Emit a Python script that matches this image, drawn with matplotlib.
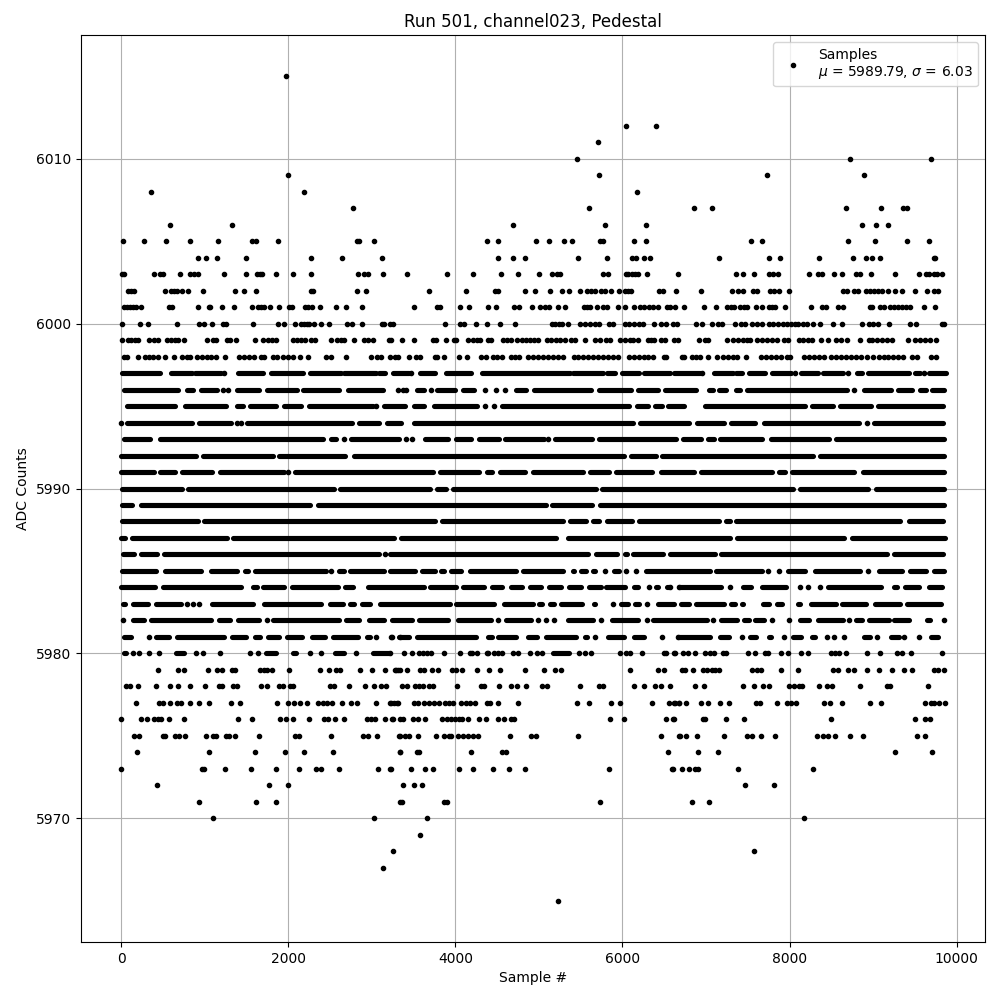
import matplotlib
matplotlib.use('Agg')
import matplotlib.pyplot as plt

# isolated samples, one list per ADC count
adc_6015 = [1976]
adc_6012 = [6036, 6396]
adc_6011 = [5712]
adc_6010 = [5460, 8728, 9688]
adc_6009 = [2000, 5724, 7732, 8896]
adc_6008 = [356, 2192, 6168]
adc_6007 = [2768, 5604, 6856, 7072, 8680, 9100, 9364, 9412]
adc_6006 = [584, 1328, 4692, 5796, 6276, 8872, 9040, 9184]
adc_6005 = [20, 272, 536, 824, 1160, 1568, 1616, 1880, 2816, 2844, 3020, 4380, 4512, 4968, 5124, 5304, 5400, 5736, 5764, 6132, 6276, 7540, 7672, 8704, 9028, 9412, 9664]
adc_6004 = [920, 1016, 1148, 1496, 2276, 2636, 3116, 4512, 4692, 4836, 5472, 5820, 6108, 6156, 6252, 6324, 7156, 7756, 7888, 8356, 8764, 8920, 8992, 9088, 9724, 9744]
adc_6003 = [8, 36, 392, 460, 504, 704, 824, 872, 916, 1232, 1496, 1628, 1664, 1688, 1856, 2060, 2276, 2828, 2900, 2948, 3128, 3420, 3900, 4212, 4548, 4752, 5004, 5160, 5220, 5256, 5772, 5832, 6036, 6060, 6108, 6144, 6180, 6288, 6660, 7360, 7444, 7576, 7756, 7804, 7864, 8236, 8344, 8392, 8536, 8632, 8800, 8848, 8980, 9268, 9544, 9628, 9664, 9724, 9760, 9820]
adc_6002 = [80, 116, 152, 524, 596, 632, 668, 728, 800, 980, 1364, 1472, 1616, 2276, 2300, 2816, 2924, 3684, 4128, 4476, 4512, 4836, 4956, 5136, 5280, 5364, 5496, 5580, 5628, 5676, 5748, 5796, 5868, 5964, 6024, 6060, 6096, 6432, 6480, 6636, 6940, 7312, 7384, 7444, 7564, 7612, 7768, 7816, 7876, 7996, 8644, 8692, 8776, 8824, 8920, 8968, 9016, 9064, 9112, 9184, 9268, 9352, 9496, 9640, 9724, 9772]
adc_6001 = [32, 68, 104, 140, 176, 236, 572, 608, 920, 1052, 1064, 1204, 1352, 1568, 1640, 1676, 1712, 1784, 1892, 2012, 2048, 2204, 2240, 2288, 2384, 2564, 2684, 2876, 3504, 3780, 3816, 4056, 4164, 4392, 4488, 4704, 4764, 4920, 5016, 5076, 5124, 5232, 5316, 5544, 5580, 5616, 5700, 5772, 5820, 5952, 6024, 6132, 6204, 6252, 6312, 6360, 6420, 6528, 6564, 6624, 6736, 6976, 7120, 7252, 7300, 7336, 7408, 7456, 7492, 7600, 7672, 7756, 7792, 7828, 7948, 8260, 8392, 8440, 8584, 8644, 8968, 8992, 9088, 9136, 9208, 9256, 9304, 9352, 9400, 9448, 9604, 9736]
adc_6000 = [8, 224, 320, 668, 932, 992, 1088, 1220, 1256, 1580, 1880, 1952, 2084, 2156, 2192, 2228, 2252, 2312, 2396, 2492, 2696, 2756, 2876, 3116, 3140, 3212, 3248, 3876, 4056, 4104, 4248, 4380, 4536, 4716, 5160, 5196, 5244, 5280, 5352, 5496, 5556, 5616, 5676, 5724, 5844, 5892, 6024, 6072, 6132, 6192, 6240, 6372, 6456, 6516, 6604, 6652, 6880, 6952, 7072, 7144, 7192, 7348, 7420, 7468, 7552, 7612, 7672, 7756, 7804, 7864, 7924, 7972, 8020, 8068, 8104, 8164, 8212, 8284, 8368, 8524, 8632, 8872, 8956, 9004, 9064, 9196, 9448, 9508, 9828, 9852]
adc_5999 = [8, 80, 116, 164, 200, 332, 392, 440, 548, 596, 644, 680, 752, 1028, 1100, 1136, 1268, 1304, 1376, 1604, 1700, 1760, 1808, 1856, 2060, 2108, 2156, 2204, 2276, 2324, 2516, 2576, 2624, 2660, 2780, 2900, 2948, 3008, 3200, 3224, 3360, 3504, 3732, 3768, 3888, 3984, 4008, 4152, 4212, 4260, 4296, 4392, 4428, 4572, 4620, 4668, 4740, 4800, 4848, 4896, 4944, 4992, 5100, 5148, 5208, 5256, 5316, 5388, 5436, 5548, 5676, 5736, 5808, 5856, 5976, 6024, 6084, 6120, 6180, 6300, 6336, 6372, 6456, 6504, 6616, 6664, 6916, 6988, 7024, 7252, 7324, 7384, 7444, 7492, 7528, 7612, 7672, 7732, 7792, 7852, 7936, 7984, 8116, 8164, 8224, 8272, 8380, 8464, 8560, 8620, 8692, 8848, 8956, 8992, 9052, 9112, 9172, 9232, 9424, 9496, 9556, 9616, 9676, 9748]
adc_5998 = [32, 68, 200, 284, 332, 380, 440, 524, 632, 728, 788, 824, 908, 968, 1028, 1076, 1136, 1244, 1412, 1472, 1532, 1592, 1676, 1712, 1820, 1868, 1940, 2000, 2060, 2144, 2240, 2456, 2516, 2684, 2984, 3056, 3104, 3212, 3272, 3312, 3444, 3528, 3576, 3756, 3780, 3864, 4044, 4140, 4308, 4368, 4452, 4500, 4560, 4668, 4716, 4764, 4872, 4932, 4992, 5052, 5112, 5172, 5232, 5292, 5424, 5472, 5532, 5592, 5652, 5712, 5772, 5832, 5892, 5952, 6072, 6132, 6192, 6252, 6300, 6360, 6492, 6516, 6712, 6736, 6832, 6880, 6932, 7024, 7132, 7204, 7264, 7324, 7372, 7484, 7660, 7720, 7780, 7840, 7900, 7972, 8008, 8176, 8236, 8296, 8356, 8416, 8500, 8560, 8620, 8680, 8740, 8800, 8860, 8932, 9004, 9076, 9136, 9184, 9244, 9304, 9364, 9472, 9520, 9688, 9748]
adc_5997 = [1232, 3472, 6952, 8064, 8704, 9604]
adc_5996 = [1220, 1280, 3308, 3372, 3412, 3708, 4356, 4488, 4596, 8776]
adc_5995 = [3052, 4352, 4460]
adc_5994 = [0, 1380, 1432, 8924]
adc_5993 = [2660, 3412, 3480, 5112]
adc_5991 = [2000]
adc_5986 = [3160]
adc_5985 = [2516, 5796, 6036, 6156, 7744, 7876, 8944]
adc_5984 = [6312, 6676, 6572, 7284, 8124, 8224, 8360]
adc_5983 = [788, 852, 932, 5892, 6288]
adc_5982 = [20, 1740, 4512, 4992, 5084, 5184, 5748, 6288, 7088, 7792, 7996, 8716, 9844]
adc_5981 = [332, 3044, 3236, 3332, 3232, 5668, 6468, 6664, 7428, 7932, 8452, 8536, 8648, 9052, 9376, 9544]
adc_5980 = [136, 212, 332, 452, 896, 980, 1184, 1540, 1640, 2264, 2396, 2804, 3212, 3384, 3476, 3564, 3612, 3660, 3712, 3864, 4056, 4172, 4196, 4260, 4376, 4392, 4464, 4512, 4560, 4692, 4752, 4896, 4980, 5036, 5476, 5556, 5628, 5976, 6044, 6084, 6236, 6492, 6520, 6624, 6616, 6728, 6788, 6872, 6988, 7048, 7096, 7204, 7244, 7504, 7588, 7708, 7744, 7900, 7984, 8136, 8224, 8500, 8548, 8596, 8680, 8932, 9088, 9292, 9352, 9460, 9820]
adc_5979 = [440, 680, 748, 1040, 1148, 1208, 1328, 1360, 1660, 1708, 1748, 1800, 2012, 2384, 2492, 2564, 2620, 2852, 2996, 3152, 3284, 3332, 3276, 3316, 3424, 3580, 3624, 3720, 3792, 3960, 4004, 4080, 4260, 4404, 4536, 4836, 5064, 5196, 5268, 6084, 6424, 6492, 6712, 6748, 6844, 6964, 7012, 7072, 7108, 7156, 7552, 7612, 7660, 7900, 8104, 8524, 8584, 8704, 8776, 8932, 9076, 9232, 9376, 9472, 9724, 9772, 9844]
adc_5978 = [60, 108, 200, 416, 584, 680, 824, 1004, 1172, 1208, 1340, 1380, 1676, 1748, 1892, 1940, 2024, 2060, 2504, 2548, 2720, 2912, 3020, 3104, 3164, 3360, 3420, 3516, 3564, 3612, 3684, 3732, 4020, 4308, 4344, 4524, 4668, 4740, 4848, 5040, 5100, 5496, 5724, 5772, 6132, 6260, 6384, 6456, 6564, 6868, 6976, 7444, 7576, 7684, 7756, 7996, 8056, 8116, 8152, 8356, 8452, 8512, 8844, 9172, 9208, 9652]
adc_5977 = [172, 452, 500, 584, 668, 716, 824, 932, 1044, 1312, 1424, 1868, 2000, 2072, 2144, 2228, 2360, 2420, 2468, 2528, 2636, 2744, 2816, 3044, 3212, 3260, 3308, 3228, 3300, 3504, 3552, 3624, 3684, 3744, 3804, 3876, 3924, 3972, 4068, 4128, 4176, 4236, 4380, 4416, 4512, 4752, 5460, 5604, 5868, 5976, 6348, 6552, 6624, 6672, 6616, 6676, 6764, 6940, 7024, 7168, 7276, 7600, 7648, 7844, 7972, 8020, 8080, 8416, 8488, 8632, 8968, 9100, 9616, 9688, 9724, 9784, 9856]
adc_5976 = [0, 236, 308, 392, 440, 476, 572, 752, 1400, 1568, 1904, 1976, 2060, 2252, 2432, 2480, 2552, 2660, 2936, 2984, 3032, 3152, 3248, 3332, 3240, 3368, 3492, 3552, 3636, 3840, 3900, 3948, 3996, 4044, 4080, 4152, 4284, 4364, 4512, 4584, 4668, 4704, 5856, 6012, 6516, 6612, 6604, 6964, 6988, 7240, 7456, 8500, 9496, 9616, 9676]
adc_5975 = [148, 212, 500, 524, 644, 692, 764, 1016, 1100, 1136, 1256, 1292, 1364, 1652, 2084, 2132, 2516, 2888, 2948, 3056, 3332, 3324, 3396, 3444, 3552, 3768, 3864, 3924, 3948, 4032, 4092, 4152, 4212, 4272, 4656, 4908, 4968, 5472, 6456, 6684, 6676, 6760, 6892, 7216, 7492, 7552, 7660, 7828, 8332, 8404, 8464, 8548, 8728, 8884, 9520, 9616]
adc_5974 = [188, 1052, 1604, 1964, 2192, 2540, 3332, 3336, 3540, 3564, 4188, 4560, 4608, 6540, 6904, 7144, 9268, 9700]
adc_5973 = [0, 968, 992, 1244, 1556, 1856, 2132, 2336, 2396, 2600, 3068, 3224, 3212, 3468, 3636, 3732, 4044, 4212, 4452, 4644, 4836, 5844, 6600, 6596, 6712, 6796, 6868, 6904, 7384, 8284]
adc_5972 = [428, 1772, 2000, 3372, 3504, 3600, 7468, 7816]
adc_5971 = [932, 1616, 1856, 3332, 3360, 3864, 3900, 5736, 6832, 7036]
adc_5970 = [1100, 3020, 3660, 8176]
adc_5969 = [3576]
adc_5968 = [3248, 7576]
adc_5967 = [3128]
adc_5965 = [5232]

# stretches where the dots merge into a solid row: (first sample, last sample)
runs_5997 = [(12, 468), (592, 840), (880, 1188), (1392, 1692), (1788, 2180), (2260, 2628), (2660, 3052), (3080, 3160), (3252, 3444), (3580, 3752), (3892, 4192), (4312, 5372), (5412, 5772), (5812, 5912), (6000, 6192), (6260, 6572), (6612, 6924), (7096, 7324), (7364, 7436), (7516, 7704), (7784, 8012), (8136, 8336), (8404, 8644), (8812, 8864), (8944, 9436), (9496, 9564), (9664, 9868)]
runs_5996 = [(28, 676), (788, 856), (952, 1148), (1380, 1648), (1744, 2100), (2180, 2608), (2712, 3128), (3544, 3620), (3784, 4000), (4096, 4220), (4724, 4840), (4936, 5620), (5716, 6100), (6184, 6420), (6508, 6880), (7036, 7080), (7160, 7240), (7360, 7404), (7496, 8692), (8888, 9212), (9296, 9472), (9556, 9632), (9704, 9852)]
runs_5995 = [(72, 648), (764, 1252), (1380, 1460), (1536, 1852), (1944, 2156), (2252, 3008), (3140, 3400), (3504, 3628), (3744, 4260), (4552, 6080), (6172, 6300), (6392, 6468), (6548, 6732), (6988, 8180), (8264, 8520), (8608, 8980), (9064, 9836)]
runs_5994 = [(64, 848), (924, 1308), (1500, 2756), (2844, 3088), (3180, 3348), (3504, 6120), (6212, 6796), (6896, 7220), (7296, 7584), (7696, 8832), (9016, 9836)]
runs_5993 = [(36, 348), (468, 2420), (2508, 2568), (2748, 3328), (3636, 3912), (4004, 4188), (4284, 4520), (4596, 5060), (5192, 5640), (5724, 6640), (6728, 6940), (7020, 7092), (7172, 7672), (7776, 8472), (8556, 9852)]
runs_5992 = [(0, 892), (972, 1816), (1892, 2676), (2780, 6012), (6104, 6400), (6476, 8280), (8360, 9852)]
runs_5991 = [(0, 388), (468, 644), (732, 1088), (1176, 1948), (2084, 3732), (3812, 4280), (4372, 4440), (4528, 4832), (4924, 5528), (5612, 5840), (5924, 6352), (6460, 6852), (6944, 7792), (7876, 7940), (8028, 8772), (8876, 9852)]
runs_5990 = [(12, 728), (804, 2548), (2612, 3700), (3784, 3888), (3976, 5680), (5756, 8044), (8124, 8944), (9036, 9852)]
runs_5989 = [(12, 128), (232, 2260), (2352, 5080), (5156, 5640), (5736, 9852)]
runs_5988 = [(12, 916), (992, 3760), (3836, 5292), (5376, 5564), (5644, 5724), (5816, 6112), (6196, 7152), (7236, 7284), (7364, 9324), (9428, 9836)]
runs_5987 = [(0, 40), (132, 1260), (1340, 3260), (3352, 5200), (5352, 7284), (7376, 8652), (8744, 9860)]
runs_5986 = [(24, 148), (240, 428), (516, 3088), (3220, 5592), (5684, 5940), (6024, 6048), (6124, 6480), (6564, 7104), (7184, 9164), (9248, 9832)]
runs_5985 = [(12, 416), (528, 956), (1072, 1388), (1480, 1516), (1596, 2448), (2604, 2660), (2740, 3140), (3220, 3520), (3596, 3760), (3832, 3860), (3952, 4068), (4172, 4728), (4804, 5288), (5404, 5420), (5504, 5560), (5644, 5672), (5900, 5960), (6276, 7044), (7124, 7672), (7984, 8184), (8300, 8844), (9068, 9352), (9440, 9632), (9728, 9844)]
runs_5984 = [(0, 400), (504, 1436), (1572, 1620), (1700, 1948), (2040, 2596), (2680, 2768), (2952, 3620), (3692, 4008), (4096, 4340), (4432, 4552), (4664, 4800), (4892, 5028), (5116, 5268), (5364, 5500), (5596, 5740), (5804, 6028), (6132, 6180), (6404, 6420), (6536, 6560), (6680, 7180), (7444, 7540), (7676, 7960), (8456, 9092), (9256, 9292), (9388, 9552), (9668, 9820)]
runs_5983 = [(24, 44), (144, 316), (420, 716), (1084, 1580), (1704, 2388), (2496, 2648), (2740, 2780), (2876, 2980), (3092, 3940), (4012, 4460), (4584, 4924), (4996, 5040), (5136, 5180), (5264, 5520), (5656, 5676), (5980, 6060), (6152, 6200), (6424, 6620), (6696, 6792), (6876, 7220), (7296, 7344), (7428, 7444), (7688, 7752), (7844, 7912), (8100, 8124), (8252, 8552), (8628, 8916), (9020, 9324), (9412, 9812)]
runs_5982 = [(144, 276), (356, 1076), (1168, 1300), (1392, 1652), (1816, 2600), (2692, 2848), (2964, 3140), (3236, 3480), (3564, 3912), (4036, 4420), (4604, 4908), (5344, 5652), (5872, 6180), (6364, 7012), (7184, 7372), (7460, 7520), (7588, 7692), (8120, 8236), (8336, 8644), (8792, 8872), (8956, 9192), (9256, 9432), (9644, 9684)]
runs_5981 = [(36, 116), (420, 568), (672, 1228), (1320, 1492), (1596, 1660), (1752, 1888), (1980, 2164), (2280, 2436), (2532, 2828), (2940, 2976), (3328, 3440), (3536, 4252), (4384, 4440), (4512, 4720), (4868, 4972), (5084, 5440), (5556, 5580), (5824, 6012), (6132, 6252), (6660, 7052), (7164, 7276), (7524, 7596), (7748, 7772), (8036, 8132), (8268, 8308), (8888, 8968), (9220, 9312), (9688, 9772)]
runs_5980 = [(36, 60), (652, 756), (1732, 1848), (2052, 2096), (2556, 2660), (3012, 3200), (5164, 5360)]

point_levels = [6015, 6012, 6011, 6010, 6009, 6008, 6007, 6006, 6005, 6004, 6003, 6002, 6001, 6000, 5999, 5998, 5997, 5996, 5995, 5994, 5993, 5991, 5986, 5985, 5984, 5983, 5982, 5981, 5980, 5979, 5978, 5977, 5976, 5975, 5974, 5973, 5972, 5971, 5970, 5969, 5968, 5967, 5965]
point_rows = [adc_6015, adc_6012, adc_6011, adc_6010, adc_6009, adc_6008, adc_6007, adc_6006, adc_6005, adc_6004, adc_6003, adc_6002, adc_6001, adc_6000, adc_5999, adc_5998, adc_5997, adc_5996, adc_5995, adc_5994, adc_5993, adc_5991, adc_5986, adc_5985, adc_5984, adc_5983, adc_5982, adc_5981, adc_5980, adc_5979, adc_5978, adc_5977, adc_5976, adc_5975, adc_5974, adc_5973, adc_5972, adc_5971, adc_5970, adc_5969, adc_5968, adc_5967, adc_5965]
run_levels = [5997, 5996, 5995, 5994, 5993, 5992, 5991, 5990, 5989, 5988, 5987, 5986, 5985, 5984, 5983, 5982, 5981, 5980]
run_rows = [runs_5997, runs_5996, runs_5995, runs_5994, runs_5993, runs_5992, runs_5991, runs_5990, runs_5989, runs_5988, runs_5987, runs_5986, runs_5985, runs_5984, runs_5983, runs_5982, runs_5981, runs_5980]

mean_adc = 5989.79
std_adc = 6.03

xs = []
ys = []
for level, row in zip(point_levels, point_rows):
    xs += row
    ys += [level] * len(row)

fig, ax = plt.subplots(figsize=(10, 10))
ax.plot(xs, ys, 'k.', label=f'Samples\n$\\mu$ = {mean_adc}, $\\sigma$ = {std_adc}')
for level, row in zip(run_levels, run_rows):
    starts = [r[0] for r in row]
    stops = [r[1] for r in row]
    ax.hlines([level] * len(row), starts, stops, colors='k', linewidth=3.7, capstyle='round', zorder=2)

ax.set_xlim(-483, 10340)
ax.set_ylim(5962.5, 6017.5)
ax.set_title('Run 501, channel023, Pedestal')
ax.set_xlabel('Sample #')
ax.set_ylabel('ADC Counts')
ax.grid(True)
ax.legend(loc='upper right')
fig.subplots_adjust(left=0.081, right=0.985, top=0.965, bottom=0.058)
fig.savefig('out.png', dpi=100)
